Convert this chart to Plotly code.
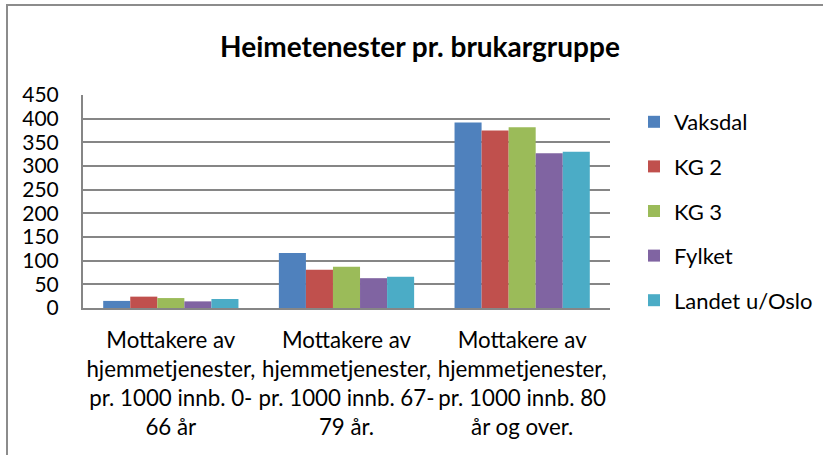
import plotly.graph_objects as go

categories = [
    "Mottakere av<br>hjemmetjenester,<br>pr. 1000 innb. 0-<br>66 år",
    "Mottakere av<br>hjemmetjenester,<br>pr. 1000 innb. 67-<br>79 år.",
    "Mottakere av<br>hjemmetjenester,<br>pr. 1000 innb. 80<br>år og over.",
]
series_names = ["Vaksdal", "KG 2", "KG 3", "Fylket", "Landet u/Oslo"]
vaksdal = [15, 116, 392]
kg2 = [24, 81, 375]
kg3 = [21, 87, 382]
fylket = [14, 63, 327]
landet = [19, 66, 330]
series_values = [vaksdal, kg2, kg3, fylket, landet]
colors = ["#4F81BD", "#C0504D", "#9BBB59", "#8064A2", "#4BACC6"]
y_ticks = [0, 50, 100, 150, 200, 250, 300, 350, 400, 450]
title_text = "Heimetenester pr. brukargruppe"

FONT = "Lato, 'Open Sans', sans-serif"
W, H = 823, 455
L, R, T, B = 83, 213, 95, 147
pw = W - L - R
ph = H - T - B

fig = go.Figure()
for i, (name, vals, col) in enumerate(zip(series_names, series_values, colors)):
    fig.add_trace(go.Bar(
        x=list(range(len(categories))), y=vals, name=name,
        marker=dict(color=col, line=dict(width=0)),
        legendgroup=f"g{i}",
    ))

def px2paper_x(px):
    return (px - L) / pw

def px2paper_y(py):
    return (H - B - py) / ph

fig.update_layout(
    width=W, height=H,
    margin=dict(l=L, r=R, t=T, b=B, pad=0, autoexpand=False),
    paper_bgcolor="white", plot_bgcolor="white",
    barmode="group", bargap=0.23, bargroupgap=0,
    font=dict(family=FONT, color="black", size=21),
    title=dict(text="<b>" + title_text + "</b>", font=dict(family=FONT, size=28, color="black"),
               x=420 / W, xref="container", xanchor="center",
               y=1 - 47 / H, yref="container", yanchor="middle"),
    xaxis=dict(
        tickmode="array", tickvals=list(range(len(categories))), ticktext=categories,
        range=[-0.5, len(categories) - 0.5], tickangle=0,
        showline=True, linecolor="#868686", linewidth=2,
        showgrid=False, ticks="", tickfont=dict(size=22.3, family=FONT),
        zeroline=False, ticklabelstandoff=11, automargin=False,
    ),
    yaxis=dict(
        range=[0, 450], tickmode="array", tickvals=y_ticks,
        showline=True, linecolor="#868686", linewidth=2,
        showgrid=True, gridcolor="#868686", gridwidth=2,
        ticks="", tickfont=dict(size=21, family=FONT),
        zeroline=False, ticklabelstandoff=18, automargin=False,
    ),
    legend=dict(
        x=px2paper_x(634), xanchor="left",
        y=px2paper_y(101), yanchor="top",
        font=dict(size=22, family=FONT), tracegroupgap=13,
        bgcolor="rgba(0,0,0,0)", traceorder="grouped",
        maxheight=400,
    ),
    shapes=[dict(
        type="rect", xref="paper", yref="paper",
        x0=px2paper_x(7), x1=px2paper_x(840),
        y0=px2paper_y(470), y1=px2paper_y(5),
        line=dict(color="#8c8c8c", width=2), fillcolor="rgba(0,0,0,0)", layer="below",
    )],
)

fig.write_html("out.html", config={"displayModeBar": False},
               post_script="document.body.style.margin='0';document.body.style.overflow='hidden';")
